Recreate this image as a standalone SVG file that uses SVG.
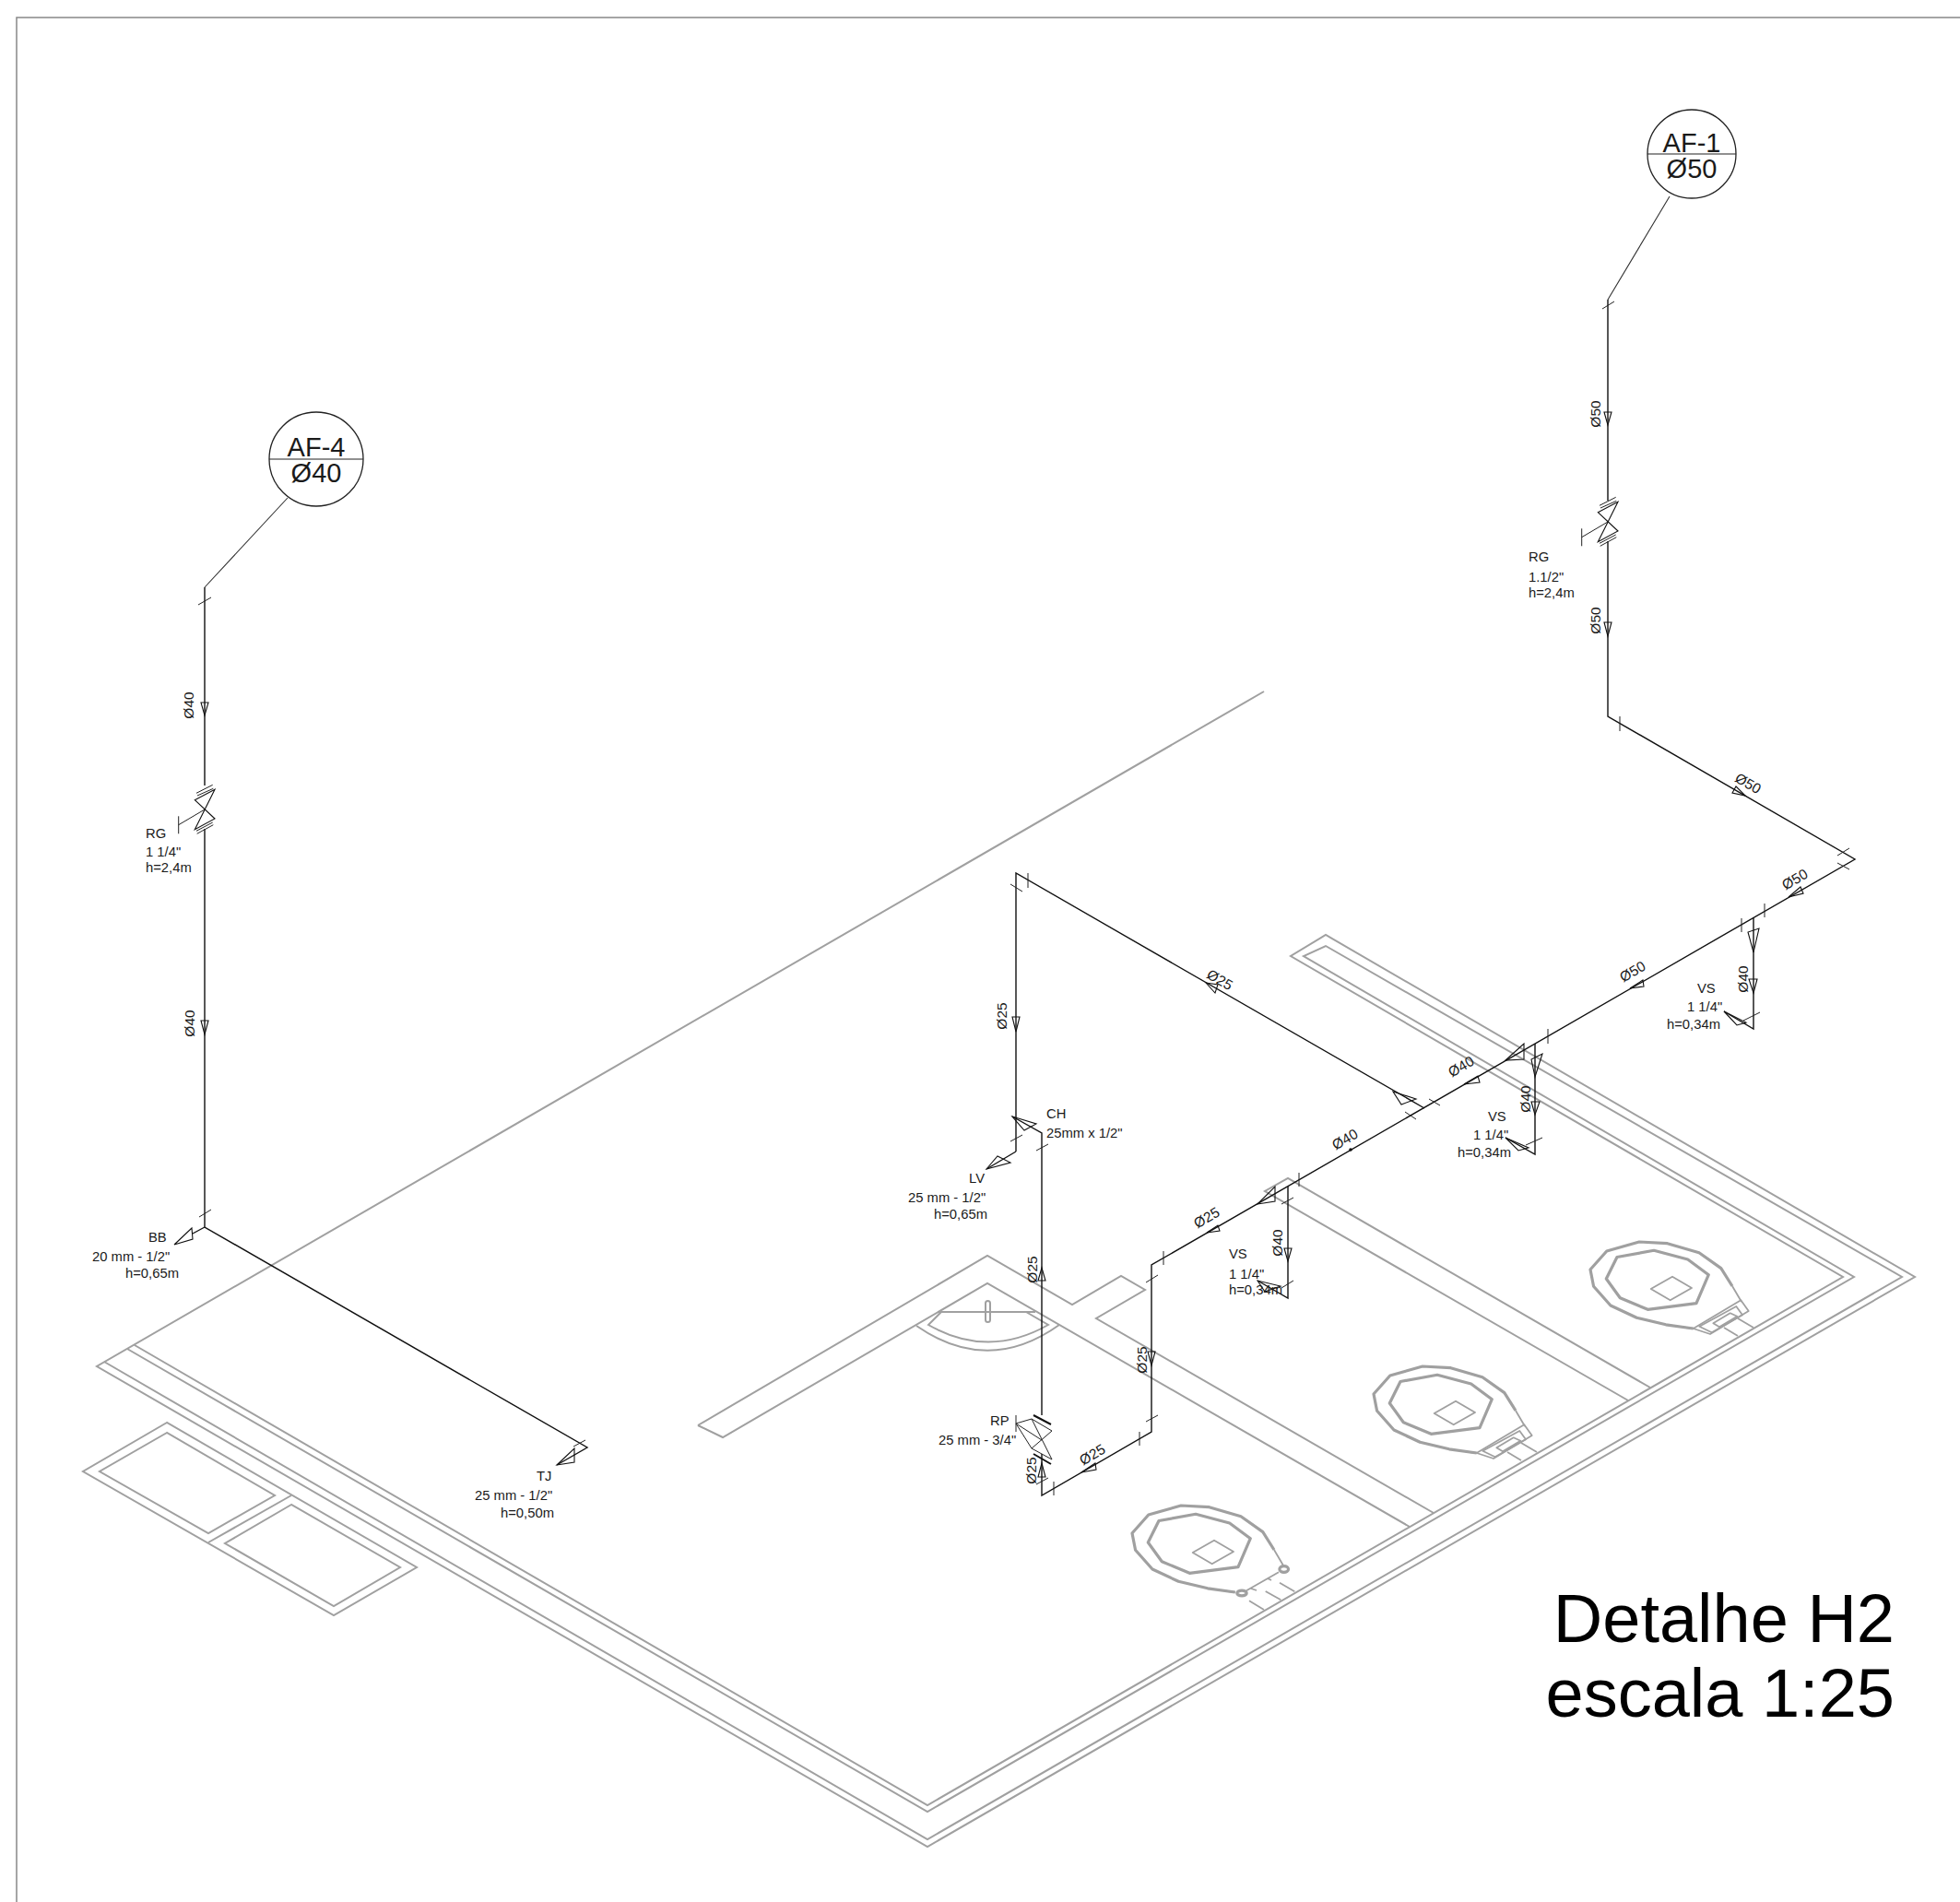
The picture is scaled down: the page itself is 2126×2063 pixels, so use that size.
<svg xmlns="http://www.w3.org/2000/svg" xmlns:xlink="http://www.w3.org/1999/xlink" width="2126" height="2063" viewBox="0 0 2126 2063">
<style>
text{font-family:"Liberation Sans",Arial,sans-serif;fill:#1a1a1a}
.l{font-size:14.8px}
.d{font-size:15.5px;text-anchor:middle}
.big{font-size:29px;text-anchor:middle}
.title{font-size:74px;text-anchor:end;fill:#000}
.w{fill:none;stroke:#a0a0a0;stroke-width:2;stroke-linejoin:miter}
.t{fill:none;stroke:#a0a0a0;stroke-width:3.2;stroke-linejoin:round}
.t2{fill:none;stroke:#a0a0a0;stroke-width:1.8;stroke-linejoin:round}
.p{fill:none;stroke:#111;stroke-width:1.4}
.lead{fill:none;stroke:#333;stroke-width:1.1}
.k{fill:none;stroke:#222;stroke-width:1}
.a{fill:none;stroke:#111;stroke-width:1.1;stroke-linejoin:miter}
.th{fill:none;stroke:#111;stroke-width:2}
</style>
<defs>
<g id="bowl">
<path class="t" d="M111.7 64L82 59.8L50.3 52.3L22 39L3.6 18.3L0 0L17.8-20L53-30L83.6-28.3L118-18.3L141.8-1.4L154 18"/>
<path class="t2" d="M154 18L164 35M111.7 64L100 62.5"/>
<polygon class="t" points="29,-13.5 69,-20.7 105.7,-11 128.3,5.7 115,36.7 62.3,43.3 32.3,30.7 17.3,10"/>
<polygon class="t2" points="89,7.7 110,20 86.7,33.3 65.7,21"/>
</g>
<g id="endA">
<polygon class="t2" points="111.7,64 130,70 171.7,45 163.3,33.3"/>
<polygon class="t2" points="118.3,61.7 131.7,68.3 165,49.3 158.3,40"/>
<polygon class="t2" points="133.3,58.3 151.7,47.3 159.3,50.7 140,62.3"/>
<path class="t2" d="M145 63L160 72M160 53L177 63"/>
</g>
<g id="valve">
<path class="k" d="M-9-17.7L8.7-26.7M-8-15L9.3-22.7M-9 23.3L8.7 14M-8.3 26.3L9.3 16.7M0 0L-28.3 16.7M-28.3 7.3V26.3"/>
<polygon class="a" points="-10.7,-10.3 11,-21.7 -10.7,21.7 11,10"/>
</g>
</defs>

<rect width="2126" height="2063" fill="#fff"/>
<path id="frame" d="M2126 19H18V2063" fill="none" stroke="#888" stroke-width="1.5"/>

<g id="structure">
<path class="w" d="M1371 750L105 1482L1006 2003L2077 1385L1438 1014L1400 1037L1999 1385L1006 1958L146 1459"/>
<path class="w" d="M113 1477L1006 1995L2063 1385L1438 1026L1414 1037L2011 1385L1006 1965L138 1463"/>
<path class="w" d="M757 1546L1071 1362L1163 1415L1216 1384L1242 1399L1189 1430L1555 1641"/>
<path class="w" d="M757 1546L784 1559L1071 1392L1529 1656"/>
<path class="w" d="M1766 1519L1372 1292L1397 1278L1790 1505"/>
<polygon class="w" points="181,1543 90,1596 362,1752 452,1700"/>
<path class="w" d="M226 1673L316 1622"/>
<polygon class="w" points="181,1554 108,1596 226,1663 298,1622"/>
<polygon class="w" points="316,1632 244,1674 362,1742 434,1700"/>
<g id="basin">
<path class="w" d="M1018 1423H1123M994 1438Q1072 1492 1149 1437M1021 1423L1007 1437Q1072 1474 1137 1437L1113 1423"/>
<rect class="w" x="1069" y="1411" width="5" height="23" rx="2.5" fill="#fff"/>
</g>
<g id="toilet1" transform="translate(1228 1663)">
<use xlink:href="#bowl" href="#bowl"/>
<ellipse class="t" cx="119" cy="65" rx="5.2" ry="2.8"/>
<ellipse class="t" cx="164.7" cy="39" rx="4.8" ry="3.3"/>
<path class="t2" d="M124 62.3L159 42.3M129 60L135 62M147 49L151 51M127 73.3L143 83M144.7 63L161.3 72.3M160 53.7L176.3 63.3"/>
</g>
<g id="toilet2" transform="translate(1490 1512)"><use xlink:href="#bowl" href="#bowl"/><use xlink:href="#endA" href="#endA"/></g>
<g id="toilet3" transform="translate(1725 1377)"><use xlink:href="#bowl" href="#bowl"/><use xlink:href="#endA" href="#endA"/></g>
</g>

<g id="connectors">
<path class="lead" d="M312 540L222 637M1811 213L1744 325"/>
<path class="p" d="M222 637V852M222 899V1331L637 1570L604 1589"/>
<path class="p" d="M222 1331L209 1338"/>
<path class="p" d="M1744 325V543M1744 587V777L2012 932L1249 1372V1553L1130 1622V1577M1130 1535V1229L1098 1211"/>
<path class="p" d="M1102 1249V947L1545 1202M1102 1249L1070 1268"/>
<path class="p" d="M1902 995V1116L1870 1097M1665 1132V1252L1633 1234M1397 1287V1408L1364 1389"/>
<circle cx="1465" cy="1247" r="1.8" fill="#111"/>
<path class="k" d="M215 656L229 648M216 1320L229 1312M622 1569L635 1562"/>
<path class="k" d="M1738 335L1751 327M1757 777V793M1993 928L2006 920M1993 936L2006 943M1914 980V995M1889 996V1011M1891 1107L1909 1098M1679 1116V1132M1655 1242L1673 1234M1550 1192L1562 1199M1524 1206L1536 1214M1409 1272V1287M1390 1306L1403 1299M1390 1397L1403 1389M1262 1357V1372M1243 1391L1256 1383M1243 1542L1256 1535M1236 1553V1568M1143 1607V1622M1124 1610L1137 1603M1115 947V963M1096 959L1109 967M1096 1238L1109 1231M1124 1248L1137 1241"/>
<path class="th" d="M1121 1535L1140 1545M1121 1577L1140 1588"/>
<g id="arrows">
<polygon class="a" points="222,776 218,762 226,762"/>
<polygon class="a" points="222,1122 218,1107 226,1107"/>
<polygon class="a" points="1744,461 1740,447 1748,447"/>
<polygon class="a" points="1744,690 1740,675 1748,675"/>
<polygon class="a" points="1893,863 1883,853 1879,860"/>
<polygon class="a" points="1940,973 1953,962 1956,969"/>
<polygon class="a" points="1768,1072 1782,1063 1783,1070"/>
<polygon class="a" points="1588,1176 1603,1167 1605,1174"/>
<polygon class="a" points="1309,1337 1321,1329 1323,1335"/>
<polygon class="a" points="1902,1033 1896,1011 1908,1007"/>
<polygon class="a" points="1902,1077 1897,1062 1906,1062"/>
<polygon class="a" points="1665,1168 1661,1149 1673,1143"/>
<polygon class="a" points="1665,1209 1661,1195 1670,1195"/>
<polygon class="a" points="1397,1368 1393,1354 1401,1354"/>
<polygon class="a" points="1249,1481 1245,1466 1253,1466"/>
<polygon class="a" points="1130,1375 1126,1389 1134,1389"/>
<polygon class="a" points="1130,1587 1126,1602 1134,1602"/>
<polygon class="a" points="1173,1597 1188,1587 1189,1594"/>
<polygon class="a" points="1102,1119 1098,1103 1106,1103"/>
<polygon class="a" points="1308,1066 1318,1077 1321,1068"/>
</g>
</g>

<g id="af1">
<circle cx="1835" cy="167" r="48" fill="#fff" stroke="#222" stroke-width="1.3"/>
<path d="M1787 167H1883" stroke="#222" stroke-width="1.2"/>
<text class="big" x="1835" y="165">AF-1</text>
<text class="big" x="1835" y="193">Ø50</text>
</g>
<g id="af4">
<circle cx="343" cy="498" r="51" fill="#fff" stroke="#222" stroke-width="1.3"/>
<path d="M292 498H394" stroke="#222" stroke-width="1.2"/>
<text class="big" x="343" y="495">AF-4</text>
<text class="big" x="343" y="523">Ø40</text>
</g>

<g id="rg-af4"><use xlink:href="#valve" href="#valve" x="222" y="878"/>
<text class="l" x="158" y="909">RG</text><text class="l" x="158" y="929">1 1/4"</text><text class="l" x="158" y="946">h=2,4m</text></g>
<g id="rg-af1"><use xlink:href="#valve" href="#valve" x="1744" y="566"/>
<text class="l" x="1658" y="609">RG</text><text class="l" x="1658" y="631">1.1/2"</text><text class="l" x="1658" y="648">h=2,4m</text></g>
<g id="bb"><polygon class="a" points="189,1350 208,1332 209,1344"/>
<text class="l" x="161" y="1347">BB</text><text class="l" x="100" y="1368">20 mm - 1/2"</text><text class="l" x="136" y="1386">h=0,65m</text></g>
<g id="tj"><polygon class="a" points="604,1589 623,1571 623,1586"/>
<text class="l" x="582" y="1606">TJ</text><text class="l" x="515" y="1627">25 mm - 1/2"</text><text class="l" x="543" y="1646">h=0,50m</text></g>
<g id="ch"><polygon class="a" points="1098,1211 1124,1219 1111,1226"/>
<text class="l" x="1135" y="1213">CH</text><text class="l" x="1135" y="1234">25mm x 1/2"</text></g>
<g id="lv"><polygon class="a" points="1070,1268 1082,1254 1096,1261"/>
<text class="l" x="1051" y="1283">LV</text><text class="l" x="985" y="1304">25 mm - 1/2"</text><text class="l" x="1013" y="1322">h=0,65m</text></g>
<g id="rp">
<path class="k" d="M1102 1535V1553M1102 1544L1119 1539L1141 1552L1119 1571L1141 1583L1119 1539M1102 1544L1119 1571M1102 1544L1130 1562"/>
<text class="l" x="1074" y="1546">RP</text><text class="l" x="1018" y="1567">25 mm - 3/4"</text></g>
<g id="ref-25"><polygon class="a" points="1511,1184 1536,1192 1520,1198"/></g>
<g id="vs1"><polygon class="a" points="1870,1097 1884,1112 1894,1109"/>
<text class="l" x="1841" y="1077">VS</text><text class="l" x="1830" y="1097">1 1/4"</text><text class="l" x="1808" y="1116">h=0,34m</text></g>
<g id="vs2"><polygon class="a" points="1633,1150 1653,1132 1653,1149"/><polygon class="a" points="1633,1234 1647,1248 1658,1245"/>
<text class="l" x="1614" y="1216">VS</text><text class="l" x="1598" y="1236">1 1/4"</text><text class="l" x="1581" y="1255">h=0,34m</text></g>
<g id="vs3"><polygon class="a" points="1364,1306 1383,1287 1383,1303"/><polygon class="a" points="1364,1389 1372,1401 1389,1395"/>
<text class="l" x="1333" y="1365">VS</text><text class="l" x="1333" y="1387">1 1/4"</text><text class="l" x="1333" y="1404">h=0,34m</text></g>

<g id="dims">
<text class="d" x="205" y="770" transform="rotate(-90 205 765)">Ø40</text>
<text class="d" x="206" y="1115" transform="rotate(-90 206 1110)">Ø40</text>
<text class="d" x="1731" y="454" transform="rotate(-90 1731 449)">Ø50</text>
<text class="d" x="1731" y="678" transform="rotate(-90 1731 673)">Ø50</text>
<text class="d" x="1896" y="855" transform="rotate(30 1896 850)">Ø50</text>
<text class="d" x="1947" y="959" transform="rotate(-30 1947 954)">Ø50</text>
<text class="d" x="1771" y="1059" transform="rotate(-30 1771 1054)">Ø50</text>
<text class="d" x="1585" y="1162" transform="rotate(-30 1585 1157)">Ø40</text>
<text class="d" x="1459" y="1241" transform="rotate(-30 1459 1236)">Ø40</text>
<text class="d" x="1309" y="1326" transform="rotate(-30 1309 1321)">Ø25</text>
<text class="d" x="1323" y="1068" transform="rotate(30 1323 1063)">Ø25</text>
<text class="d" x="1087" y="1107" transform="rotate(-90 1087 1102)">Ø25</text>
<text class="d" x="1120" y="1382" transform="rotate(-90 1120 1377)">Ø25</text>
<text class="d" x="1239" y="1480" transform="rotate(-90 1239 1475)">Ø25</text>
<text class="d" x="1119" y="1600" transform="rotate(-90 1119 1595)">Ø25</text>
<text class="d" x="1185" y="1583" transform="rotate(-30 1185 1578)">Ø25</text>
<text class="d" x="1891" y="1067" transform="rotate(-90 1891 1062)">Ø40</text>
<text class="d" x="1655" y="1197" transform="rotate(-90 1655 1192)">Ø40</text>
<text class="d" x="1386" y="1353" transform="rotate(-90 1386 1348)">Ø40</text>
</g>

<g id="title">
<text class="title" x="2055" y="1781">Detalhe H2</text>
<text class="title" x="2055" y="1862">escala 1:25</text>
</g>
</svg>
